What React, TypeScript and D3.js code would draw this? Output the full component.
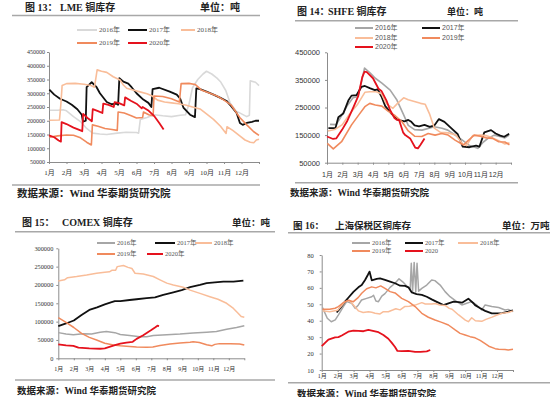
import React, { useEffect, useRef } from 'react';
import * as d3 from 'd3';

type Pt = [number, number];

// month (0 = start of Jan, 12 = end of Dec) and stock value
const monthLabels = ['1月', '2月', '3月', '4月', '5月', '6月', '7月', '8月', '9月', '10月', '11月', '12月', ''];
const yearLabels = ['2016年', '2017年', '2018年', '2019年', '2020年'];
const yearLabelsB = ['2016年', '2017年', '2018年', '2019年', '2020'];

const lmeTicks = [50000, 100000, 150000, 200000, 250000, 300000, 350000, 400000, 450000];
const shfeTicks = [50000, 150000, 250000, 350000, 450000];
const comexTicks = [0, 50000, 100000, 150000, 200000, 250000, 300000];
const bondedTicks = [10, 20, 30, 40, 50, 60, 70, 80];

// LME
const lme2016: Pt[] = [[0.05, 238000], [0.5, 238000], [0.8, 240000], [1.0, 236000], [1.4, 215000], [1.8, 197000], [2.15, 172000], [2.5, 155000], [2.9, 152000], [3.3, 150000], [3.9, 155000], [4.4, 158000], [5.0, 157000], [5.12, 155000], [5.22, 205000], [5.6, 212000], [6.0, 222000], [6.5, 218000], [7.0, 215000], [7.5, 220000], [7.8, 222000], [8.0, 260000], [8.2, 320000], [8.5, 350000], [8.8, 370000], [9.0, 380000], [9.3, 370000], [9.6, 355000], [9.8, 342000], [10.1, 310000], [10.35, 265000], [10.7, 235000], [11.0, 225000], [11.3, 215000], [11.45, 220000], [11.5, 345000], [11.8, 340000], [12, 328000]];
const lme2017: Pt[] = [[0.02, 313000], [0.3, 295000], [0.63, 280000], [1.0, 270000], [1.3, 258000], [1.62, 242000], [1.87, 222000], [1.94, 197000], [2.1, 200000], [2.15, 322000], [2.44, 340000], [2.72, 322000], [2.91, 300000], [3.3, 268000], [3.58, 260000], [3.87, 262000], [3.95, 258000], [4.02, 355000], [4.25, 342000], [4.53, 335000], [4.72, 322000], [5.0, 300000], [5.39, 277000], [5.68, 265000], [5.85, 250000], [5.92, 315000], [6.3, 320000], [6.9, 306000], [7.3, 295000], [7.5, 280000], [7.68, 248000], [8.06, 222000], [8.34, 213000], [8.42, 318000], [8.63, 315000], [9.0, 306000], [9.4, 295000], [9.77, 284000], [10.15, 272000], [10.34, 258000], [10.72, 228000], [10.91, 192000], [11.07, 185000], [11.3, 192000], [11.6, 196000], [11.8, 200000], [12, 200000]];
const lme2018: Pt[] = [[0.02, 202000], [0.6, 203000], [0.68, 262000], [0.75, 328000], [1.0, 335000], [1.5, 336000], [2.0, 333000], [2.4, 328000], [2.6, 322000], [2.75, 385000], [3.0, 380000], [3.3, 376000], [3.67, 360000], [4.06, 348000], [4.25, 330000], [4.44, 318000], [4.8, 312000], [5.2, 305000], [5.6, 298000], [5.9, 290000], [6.2, 275000], [6.6, 268000], [7.0, 265000], [7.4, 262000], [7.8, 257000], [8.2, 250000], [8.63, 243000], [9.0, 225000], [9.4, 205000], [9.8, 180000], [10.12, 154000], [10.17, 178000], [10.5, 165000], [10.9, 145000], [11.2, 130000], [11.5, 122000], [11.7, 120000], [11.85, 130000], [12, 133000]];
const lme2019: Pt[] = [[0.02, 140000], [0.5, 145000], [1.0, 148000], [1.4, 147000], [1.8, 138000], [2.15, 122000], [2.42, 112000], [2.48, 185000], [2.8, 180000], [3.2, 172000], [3.6, 168000], [3.9, 165000], [3.95, 232000], [4.3, 228000], [4.7, 218000], [5.0, 210000], [5.35, 212000], [5.4, 232000], [5.7, 222000], [5.95, 218000], [6.0, 290000], [6.5, 288000], [7.0, 280000], [7.45, 268000], [7.55, 335000], [8.0, 336000], [8.35, 332000], [8.7, 312000], [9.2, 300000], [9.6, 290000], [10.0, 275000], [10.4, 258000], [10.9, 212000], [11.3, 185000], [11.7, 160000], [12, 147000]];
const lme2020: Pt[] = [[0.0, 147000], [0.3, 140000], [0.55, 128000], [0.68, 124000], [0.72, 195000], [1.0, 188000], [1.4, 175000], [1.8, 165000], [1.9, 162000], [1.95, 225000], [2.2, 210000], [2.45, 198000], [2.5, 242000], [2.8, 235000], [3.05, 228000], [3.1, 262000], [3.4, 258000], [3.7, 250000], [3.75, 268000], [4.0, 264000], [4.3, 256000], [4.35, 285000], [4.7, 272000], [5.0, 262000], [5.3, 245000], [5.35, 250000], [5.7, 236000], [6.0, 218000], [6.3, 192000], [6.55, 168000]];

// SHFE
const shfe2016: Pt[] = [[0.2, 189000], [0.6, 188000], [0.9, 215000], [1.3, 255000], [1.7, 285000], [2.0, 290000], [2.2, 330000], [2.45, 393000], [2.82, 375000], [3.15, 356000], [3.58, 338000], [4.12, 313000], [4.56, 277000], [5.0, 223000], [5.3, 185000], [5.71, 170000], [6.2, 168000], [7.0, 180000], [7.5, 175000], [7.88, 168000], [8.5, 145000], [8.96, 126000], [9.3, 112000], [9.83, 102000], [10.2, 125000], [10.5, 138000], [10.9, 150000], [11.34, 144000], [11.6, 140000], [11.88, 150000]];
const shfe2017: Pt[] = [[0.09, 175000], [0.55, 175000], [0.74, 215000], [1.06, 228000], [1.39, 275000], [1.6, 293000], [1.93, 295000], [2.25, 325000], [2.47, 328000], [2.79, 320000], [3.12, 313000], [3.3, 316000], [3.55, 290000], [3.8, 255000], [4.2, 228000], [4.63, 205000], [5.06, 200000], [5.3, 205000], [5.5, 198000], [5.71, 185000], [6.0, 182000], [6.36, 187000], [6.7, 180000], [7.0, 185000], [7.3, 208000], [7.66, 198000], [8.1, 175000], [8.53, 153000], [8.85, 108000], [9.29, 106000], [9.72, 112000], [9.94, 108000], [10.26, 160000], [10.7, 168000], [11.0, 156000], [11.3, 148000], [11.56, 144000], [11.88, 155000]];
const shfe2018: Pt[] = [[0.05, 165000], [0.5, 170000], [1.0, 188000], [1.5, 228000], [2.0, 262000], [2.47, 305000], [2.8, 307000], [3.2, 307000], [3.55, 300000], [3.85, 265000], [4.3, 247000], [4.6, 265000], [5.0, 285000], [5.3, 278000], [5.7, 272000], [6.1, 265000], [6.4, 262000], [6.7, 225000], [7.0, 175000], [7.4, 160000], [7.9, 158000], [8.4, 150000], [8.85, 118000], [9.1, 112000], [9.5, 148000], [10.0, 150000], [10.4, 148000], [10.8, 140000], [11.2, 130000], [11.6, 118000], [11.9, 122000]];
const shfe2019: Pt[] = [[0.02, 120000], [0.41, 100000], [0.95, 126000], [1.6, 187000], [2.1, 225000], [2.47, 253000], [2.79, 265000], [3.15, 259000], [3.58, 255000], [3.98, 237000], [4.45, 220000], [4.88, 199000], [5.3, 165000], [5.71, 146000], [6.18, 145000], [6.6, 156000], [7.05, 150000], [7.48, 156000], [7.9, 150000], [8.35, 132000], [8.9, 114000], [9.2, 130000], [9.6, 150000], [10.0, 146000], [10.4, 140000], [10.8, 138000], [11.2, 126000], [11.6, 125000], [11.9, 115000]];
const shfe2020: Pt[] = [[0.0, 145000], [0.4, 136000], [0.6, 138000], [0.98, 169000], [1.3, 199000], [1.74, 253000], [2.03, 290000], [2.3, 360000], [2.45, 380000], [2.6, 378000], [3.0, 356000], [3.36, 318000], [3.55, 310000], [3.88, 275000], [4.12, 240000], [4.4, 212000], [4.55, 205000], [4.7, 205000], [4.96, 160000], [5.1, 150000], [5.42, 138000], [5.75, 105000], [5.93, 102000], [6.1, 115000], [6.36, 138000]];

// COMEX
const comex2016: Pt[] = [[0, 70000], [0.5, 66000], [0.97, 64000], [1.6, 67000], [2.15, 66000], [2.7, 71000], [3.1, 73000], [3.65, 70000], [4.0, 65000], [4.6, 62000], [5.27, 59000], [5.7, 59000], [6.13, 62000], [7.0, 64000], [7.85, 66000], [8.7, 69000], [9.57, 71000], [10.2, 73000], [10.86, 79000], [11.5, 84000], [12, 89000]];
const comex2017: Pt[] = [[0, 88000], [0.5, 95000], [1.0, 103000], [1.5, 118000], [2.0, 132000], [2.5, 139000], [3.0, 147000], [3.44, 153000], [3.65, 156000], [4.0, 156000], [4.6, 159000], [5.05, 161000], [5.7, 164000], [6.24, 166000], [6.77, 173000], [7.42, 180000], [7.96, 186000], [8.5, 194000], [9.14, 200000], [9.57, 205000], [10.1, 207000], [10.65, 209000], [11.3, 209000], [11.94, 212000]];
const comex2018: Pt[] = [[0, 211000], [0.4, 214000], [0.6, 220000], [1.18, 223000], [1.83, 227000], [2.47, 232000], [3.0, 235000], [3.3, 236000], [3.45, 240000], [3.7, 240000], [3.8, 250000], [4.2, 253000], [4.5, 248000], [4.75, 245000], [4.95, 232000], [5.48, 230000], [6.13, 223000], [6.56, 214000], [7.0, 205000], [7.42, 200000], [8.06, 194000], [8.5, 186000], [9.14, 177000], [9.78, 168000], [10.3, 161000], [10.86, 150000], [11.3, 136000], [11.6, 123000], [11.8, 114000], [12, 112000]];
const comex2019: Pt[] = [[0, 111000], [0.5, 98000], [1.0, 84000], [1.5, 68000], [2.0, 57000], [2.47, 50000], [3.0, 41000], [3.55, 36000], [4.0, 34000], [4.4, 33000], [5.05, 31000], [5.7, 30000], [6.1, 31000], [6.56, 35000], [7.2, 39000], [7.85, 42000], [8.5, 44000], [8.7, 45000], [9.1, 43000], [9.57, 37000], [9.9, 34000], [10.1, 38000], [10.4, 40000], [11.1, 40000], [11.7, 39000], [12, 36000]];
const comex2020: Pt[] = [[0, 38000], [0.5, 35000], [0.97, 34000], [1.3, 29000], [2.0, 27000], [2.7, 26000], [3.0, 27000], [3.3, 31000], [3.65, 36000], [4.0, 40000], [4.4, 43000], [4.8, 45000], [5.05, 53000], [5.48, 63000], [5.8, 72000], [6.0, 77000], [6.24, 84000], [6.4, 89000], [6.5, 88000]];

// Shanghai bonded area (10k t)
const bonded2016: Pt[] = [[0.05, 48], [0.35, 41.5], [0.6, 39.4], [0.85, 40.5], [1.05, 43.5], [1.36, 48.6], [1.57, 51.6], [1.88, 50.6], [2.1, 47.5], [2.3, 49.6], [2.5, 52.6], [2.82, 53.6], [3.14, 54.6], [3.25, 55.5], [3.4, 52.0], [3.56, 51.6], [3.77, 55.0], [3.97, 56.5], [4.29, 60.3], [4.6, 62.8], [4.85, 65.5], [5.1, 63.5], [5.33, 61.1], [5.55, 59.5], [5.62, 75], [5.7, 57.5], [5.8, 75.5], [5.9, 57.5], [5.98, 75], [6.08, 58], [6.28, 59.7], [6.59, 61.7], [6.9, 64.8], [7.1, 64.4], [7.43, 61.7], [7.74, 57.7], [8.05, 54.6], [8.47, 51.6], [8.79, 49.6], [9.1, 50.6], [9.4, 51.6], [9.72, 49.6], [10.04, 46.5], [10.25, 49.6], [10.67, 48.6], [11.1, 48.0], [11.5, 46.5], [11.7, 46.9], [12, 45.5]];
const bonded2017: Pt[] = [[0.94, 45], [1.15, 47.5], [1.46, 51.6], [1.67, 54], [1.99, 57.5], [2.3, 60.3], [2.51, 61.7], [2.72, 64.8], [2.9, 68], [3.0, 69.9], [3.14, 64.6], [3.45, 65.4], [3.66, 65.8], [3.97, 64.8], [4.29, 63.8], [4.6, 62.8], [4.92, 61.3], [5.23, 61.2], [5.44, 60.3], [5.65, 57.2], [5.95, 56.2], [6.28, 55.7], [6.59, 54.6], [6.9, 53], [7.22, 51.5], [7.64, 49.5], [7.95, 50.6], [8.28, 51.6], [8.6, 51.3], [8.8, 51], [9.2, 53.4], [9.5, 50.8], [9.62, 49.5], [9.95, 47.6], [10.25, 46], [10.67, 44.5], [11.0, 44.5], [11.32, 44.6], [11.7, 45.5], [12, 46.3]];
const bonded2018: Pt[] = [[0.05, 46], [0.5, 45.5], [1.0, 46.3], [1.46, 51.6], [1.72, 52.4], [1.95, 50], [2.3, 46], [2.6, 45], [2.93, 45.5], [3.14, 45.1], [3.35, 44.5], [3.66, 44.1], [3.87, 45.5], [4.18, 45.5], [4.45, 46.5], [4.65, 47.3], [4.92, 46.6], [5.2, 48.6], [5.5, 48.8], [5.86, 49.5], [6.28, 51], [6.5, 50.2], [6.9, 50.2], [7.13, 50.5], [7.4, 49.6], [7.74, 49.3], [8.0, 47.5], [8.18, 47], [8.59, 43.5], [9.01, 40.4], [9.2, 39.4], [9.41, 41.8], [9.64, 40.0], [10.04, 39.6], [10.3, 40.8], [10.69, 42.2], [11.0, 43.5], [11.32, 44.5], [11.7, 45], [12, 46]];
const bonded2019: Pt[] = [[0.05, 47], [0.5, 47], [0.84, 47.6], [1.05, 48.6], [1.36, 51], [1.67, 52.4], [1.99, 51.6], [2.3, 54.2], [2.51, 56.7], [2.82, 59.5], [3.14, 60.6], [3.4, 60], [3.7, 61.2], [3.97, 59.7], [4.29, 57.7], [4.6, 56.9], [5.02, 53.6], [5.44, 51.6], [5.86, 48.6], [6.28, 44.5], [6.69, 42.1], [7.11, 40.4], [7.53, 39.0], [7.95, 37.4], [8.37, 34.4], [8.68, 32.3], [9.0, 31.3], [9.31, 30.3], [9.62, 29.6], [9.94, 28], [10.25, 26], [10.48, 24.5], [10.88, 23.0], [11.1, 22.6], [11.5, 22.5], [11.7, 22.2], [12, 22.6]];
const bonded2020: Pt[] = [[0, 24.5], [0.42, 28.5], [0.84, 29.8], [1.05, 30], [1.26, 31], [1.67, 33.3], [1.99, 34], [2.3, 33.8], [2.62, 33.6], [2.93, 34.4], [3.14, 34], [3.56, 33], [3.87, 31.3], [4.18, 29], [4.4, 26.5], [4.6, 24], [4.75, 21.6], [5.03, 21.5], [5.44, 21.7], [5.86, 21], [6.2, 21], [6.59, 21.3], [6.81, 22.2]];

const SERIF = "'Liberation Serif', 'Noto Sans CJK SC', serif";
const SANS = "'Liberation Sans', 'Noto Sans CJK SC', sans-serif";
const AXIS = '#8c8c8c';
const RULE = '#a8a8a8';

const C16L = '#d9d9d9';
const C16 = '#a6a6a6';
const C17 = '#111111';
const C18 = '#f9bd99';
const C19 = '#f08a5d';
const C20 = '#e5121d';

interface Leg { x: number; len: number; y: number }
interface PanelCfg {
  left: number; right: number; top: number; bottom: number;
  yDomain: [number, number]; yTicks: number[];
  yFont: number; yPad: number; xFont: number; xPad: number; tickFamily: string;
  series: Pt[][]; colors: string[]; widths: number[];
  labels: string[]; legend: Leg[]; legendFont: number; legendFamily: string;
  fig: string; figX: number; name: string; nameX: number; titleY: number; titleSize: number;
  unit: string; unitX: number; unitSize: number;
  ruleX0: number; ruleX1: number; ruleTop: number; ruleBottom: number;
  footX: number; footY: number; footSize: number;
}

const panels: PanelCfg[] = [
  {
    left: 49, right: 259, top: 52, bottom: 162, yDomain: [50000, 450000], yTicks: lmeTicks,
    yFont: 6, yPad: 2, xFont: 7, xPad: 6.5, tickFamily: SERIF,
    series: [lme2016, lme2017, lme2018, lme2019, lme2020],
    colors: [C16L, C17, C18, C19, C20], widths: [1.6, 1.8, 1.6, 1.6, 1.8],
    labels: yearLabels,
    legend: [{ x: 77, len: 20, y: 30 }, { x: 128, len: 19, y: 30 }, { x: 181, len: 14, y: 30 }, { x: 77, len: 20, y: 43 }, { x: 128, len: 19, y: 43 }],
    legendFont: 7, legendFamily: SERIF,
    fig: '图 13：', figX: 25, name: 'LME 铜库存', nameX: 60, titleY: 10.5, titleSize: 10,
    unit: '单位：吨', unitX: 200, unitSize: 10,
    ruleX0: 12, ruleX1: 260, ruleTop: 15.5, ruleBottom: 185,
    footX: 17, footY: 197, footSize: 10.5,
  },
  {
    left: 327, right: 511, top: 52.3, bottom: 162.7, yDomain: [50000, 450000], yTicks: shfeTicks,
    yFont: 7.5, yPad: 5, xFont: 7, xPad: 7, tickFamily: SANS,
    series: [shfe2016, shfe2017, shfe2018, shfe2019, shfe2020],
    colors: [C16, C17, C18, C19, C20], widths: [1.6, 1.8, 1.6, 1.6, 1.8],
    labels: yearLabels,
    legend: [{ x: 355, len: 18, y: 28 }, { x: 422, len: 18, y: 28 }, { x: 355, len: 18, y: 38 }, { x: 422, len: 18, y: 38 }, { x: 355, len: 18, y: 47 }],
    legendFont: 7, legendFamily: SANS,
    fig: '图 14：', figX: 297, name: 'SHFE 铜库存', nameX: 328, titleY: 15, titleSize: 10,
    unit: '单位：吨', unitX: 447, unitSize: 9,
    ruleX0: 295, ruleX1: 518, ruleTop: 20.7, ruleBottom: 182.7,
    footX: 290, footY: 196, footSize: 9.5,
  },
  {
    left: 58.3, right: 244.3, top: 248.3, bottom: 358.3, yDomain: [0, 300000], yTicks: comexTicks,
    yFont: 6.3, yPad: 3, xFont: 6, xPad: 6, tickFamily: SERIF,
    series: [comex2016, comex2017, comex2018, comex2019, comex2020],
    colors: [C16, C17, C18, C19, C20], widths: [1.5, 1.8, 1.5, 1.5, 1.8],
    labels: yearLabels,
    legend: [{ x: 97, len: 18, y: 243 }, { x: 155, len: 20, y: 243 }, { x: 195, len: 17, y: 243 }, { x: 97, len: 18, y: 254 }, { x: 147, len: 16, y: 254 }],
    legendFont: 6.5, legendFamily: SERIF,
    fig: '图 15：', figX: 22, name: 'COMEX 铜库存', nameX: 62, titleY: 226, titleSize: 10,
    unit: '单位：吨', unitX: 232, unitSize: 9.5,
    ruleX0: 15, ruleX1: 275, ruleTop: 231.7, ruleBottom: 380,
    footX: 17, footY: 394, footSize: 9.5,
  },
  {
    left: 321.7, right: 513, top: 255, bottom: 370, yDomain: [10, 80], yTicks: bondedTicks,
    yFont: 6.5, yPad: 6, xFont: 6, xPad: 1.5, tickFamily: SERIF,
    series: [bonded2016, bonded2017, bonded2018, bonded2019, bonded2020],
    colors: [C16, C17, C18, C19, C20], widths: [1.5, 1.8, 1.5, 1.5, 1.8],
    labels: yearLabelsB,
    legend: [{ x: 352, len: 18, y: 243 }, { x: 405, len: 18, y: 243 }, { x: 458, len: 20, y: 243 }, { x: 352, len: 18, y: 251 }, { x: 405, len: 18, y: 251 }],
    legendFont: 6.5, legendFamily: SERIF,
    fig: '图 16：', figX: 293, name: '上海保税区铜库存', nameX: 335, titleY: 228.5, titleSize: 9.5,
    unit: '单位：万吨', unitX: 502, unitSize: 9.5,
    ruleX0: 288, ruleX1: 550, ruleTop: 232.7, ruleBottom: 382.7,
    footX: 297, footY: 396.5, footSize: 9.5,
  },
];

const Panel = ({ c }: { c: PanelCfg }) => {
  const xRef = useRef<SVGGElement>(null);
  const yRef = useRef<SVGGElement>(null);
  const x = d3.scaleLinear().domain([0, 12]).range([c.left, c.right]);
  const y = d3.scaleLinear().domain(c.yDomain).range([c.bottom, c.top]);
  const line = d3.line<Pt>().x(d => x(d[0])).y(d => y(d[1]));

  useEffect(() => {
    const gx = d3.select(xRef.current);
    gx.call(
      d3.axisBottom(x).tickValues(d3.range(13)).tickSize(2).tickSizeOuter(0)
        .tickPadding(c.xPad).tickFormat((_d, i) => monthLabels[i]) as any
    );
    const gy = d3.select(yRef.current);
    gy.call(
      d3.axisLeft(y).tickValues(c.yTicks).tickSize(2).tickSizeOuter(0)
        .tickPadding(c.yPad).tickFormat(d3.format('d')) as any
    );
    gx.attr('font-size', c.xFont);
    gy.attr('font-size', c.yFont);
    [gx, gy].forEach(g => {
      g.attr('font-family', c.tickFamily);
      g.selectAll('path.domain').attr('stroke', AXIS);
      g.selectAll('.tick line').attr('stroke', AXIS);
      g.selectAll('.tick text').attr('fill', '#333');
    });
  }, []);

  return (
    <g>
      <text x={c.figX} y={c.titleY} fontSize={c.titleSize} fontWeight="bold" fontFamily={SERIF} fill="#222">{c.fig}</text>
      <text x={c.nameX} y={c.titleY} fontSize={c.titleSize} fontWeight="bold" fontFamily={SERIF} fill="#222">{c.name}</text>
      <text x={c.unitX} y={c.titleY} fontSize={c.unitSize} fontWeight="bold" fontFamily={SERIF} fill="#222">{c.unit}</text>
      <line x1={c.ruleX0} x2={c.ruleX1} y1={c.ruleTop} y2={c.ruleTop} stroke={RULE} strokeWidth={1.6} />

      {c.legend.map((l, i) => (
        <g key={i}>
          <line x1={l.x} x2={l.x + l.len} y1={l.y} y2={l.y} stroke={c.colors[i]} strokeWidth={2} />
          <text x={l.x + l.len + 2} y={l.y + c.legendFont * 0.35} fontSize={c.legendFont} fontFamily={c.legendFamily} fill="#555">{c.labels[i]}</text>
        </g>
      ))}

      <g ref={yRef} transform={`translate(${c.left},0)`} />
      <g ref={xRef} transform={`translate(0,${c.bottom})`} />

      {c.series.map((s, i) => (
        <path key={i} d={line(s) ?? ''} fill="none" stroke={c.colors[i]} strokeWidth={c.widths[i]} strokeLinejoin="round" />
      ))}

      <line x1={c.ruleX0} x2={c.ruleX1} y1={c.ruleBottom} y2={c.ruleBottom} stroke={RULE} strokeWidth={1.6} />
      <text x={c.footX} y={c.footY} fontSize={c.footSize} fontWeight="bold" fontFamily={SERIF} fill="#222">数据来源：Wind 华泰期货研究院</text>
    </g>
  );
};

const App = () => (
  <svg width={550} height={397} style={{ position: 'absolute', left: 0, top: 0, background: '#fff' }}>
    {panels.map((p, i) => <Panel key={i} c={p} />)}
  </svg>
);

export default App;
